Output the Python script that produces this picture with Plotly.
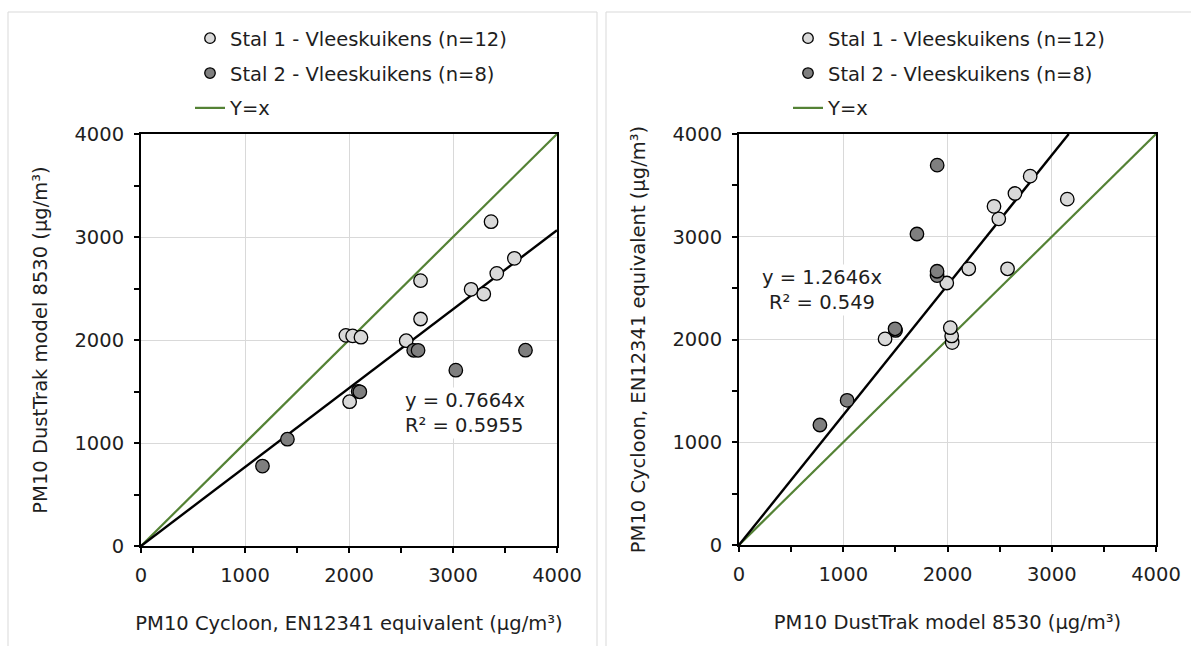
import plotly.graph_objects as go

# PM10 measurements per barn: Cycloon (EN12341 equivalent) vs DustTrak 8530, in µg/m³
stal1_cycloon = [3366, 3590, 3421, 3174, 3296, 2688, 2688, 2550, 1970, 2035, 2115, 2006]
stal1_dusttrak = [3149, 2793, 2647, 2492, 2446, 2576, 2204, 1993, 2045, 2040, 2027, 1401]
stal2_cycloon = [1168, 1408, 2088, 2104, 2622, 2664, 3027, 3697]
stal2_dusttrak = [776, 1037, 1502, 1497, 1900, 1900, 1707, 1901]

# regression lines through the origin
slope_left = 0.7664
r2_left = 0.5955
slope_right = 1.2646
r2_right = 0.549

axis_max = 4000
tick_vals = [0, 1000, 2000, 3000, 4000]

name1 = "Stal 1 - Vleeskuikens (n=12)"
name2 = "Stal 2 - Vleeskuikens (n=8)"
name_eq = "Y=x"

FONT = "DejaVu Sans"
TXT = "#1e1e1e"
FS = 19.5
GREEN = "#548235"
LIGHT = "#d9d9d9"
DARK = "#7f7f7f"
OUTLINE = dict(color="black", width=1.3)

W, H = 1191, 646


def px_x(p):
    return p / W


def px_y(p):
    return 1 - p / H


fig = go.Figure()


def add_panel(xa, ya, legend, x1, y1, x2, y2, slope):
    # lines first so the markers sit on top of them
    fig.add_trace(go.Scatter(
        x=[0, axis_max], y=[0, axis_max], mode="lines", name=name_eq,
        xaxis=xa, yaxis=ya, legend=legend, legendgroup=legend + "c", legendrank=3,
        line=dict(color=GREEN, width=2.2),
    ))
    x_end = min(axis_max, axis_max / slope)
    fig.add_trace(go.Scatter(
        x=[0, x_end], y=[0, slope * x_end], mode="lines", showlegend=False,
        xaxis=xa, yaxis=ya, line=dict(color="black", width=2.4),
    ))
    fig.add_trace(go.Scatter(
        x=x1, y=y1, mode="markers", name=name1, xaxis=xa, yaxis=ya,
        showlegend=False, legendgroup=legend + "a",
        marker=dict(size=13.5, color=LIGHT, line=OUTLINE),
    ))
    fig.add_trace(go.Scatter(
        x=x2, y=y2, mode="markers", name=name2, xaxis=xa, yaxis=ya,
        showlegend=False, legendgroup=legend + "b",
        marker=dict(size=13.5, color=DARK, line=OUTLINE),
    ))
    # legend keys with smaller symbols than the plotted markers
    for nm, col, grp, rk in ((name1, LIGHT, "a", 1), (name2, DARK, "b", 2)):
        fig.add_trace(go.Scatter(
            x=[None], y=[None], mode="markers", name=nm, xaxis=xa, yaxis=ya,
            legend=legend, legendgroup=legend + grp, legendrank=rk,
            marker=dict(size=10.5, color=col, line=OUTLINE),
        ))


add_panel("x", "y", "legend", stal1_cycloon, stal1_dusttrak,
          stal2_cycloon, stal2_dusttrak, slope_left)
add_panel("x2", "y2", "legend2", stal1_dusttrak, stal1_cycloon,
          stal2_dusttrak, stal2_cycloon, slope_right)

axis_common = dict(
    range=[0, axis_max], tickvals=tick_vals, showgrid=True, gridcolor="#d9d9d9",
    gridwidth=1, zeroline=False, showline=True, linecolor="black", linewidth=2,
    mirror=True, ticks="outside", ticklen=5, tickwidth=1.5, tickcolor="black",
    ticklabelstandoff=6,
    minor=dict(dtick=500, tick0=0, ticks="outside", ticklen=5, tickwidth=1.5,
               tickcolor="black", showgrid=False),
    tickfont=dict(family=FONT, size=FS, color=TXT),
    fixedrange=True,
)

legend_common = dict(
    font=dict(family=FONT, size=FS, color=TXT), bgcolor="rgba(0,0,0,0)",
    orientation="v", xanchor="left", yanchor="top", tracegroupgap=6.5,
    traceorder="grouped", itemclick=False, itemdoubleclick=False,
)

title_font = dict(family=FONT, size=FS, color=TXT)

fig.update_layout(
    width=W, height=H, margin=dict(l=0, r=0, t=0, b=0, autoexpand=False),
    paper_bgcolor="white", plot_bgcolor="white",
    font=dict(family=FONT, size=FS, color=TXT),
    xaxis=dict(axis_common, domain=[px_x(141), px_x(557)], anchor="y",
               title=dict(text="PM10 Cycloon, EN12341 equivalent (µg/m³)",
                          font=title_font, standoff=30)),
    yaxis=dict(axis_common, domain=[px_y(546), px_y(134)], anchor="x",
               title=dict(text="PM10 DustTrak model 8530 (µg/m³)",
                          font=title_font, standoff=22)),
    xaxis2=dict(axis_common, domain=[px_x(739), px_x(1156)], anchor="y2",
                title=dict(text="PM10 DustTrak model 8530 (µg/m³)",
                           font=title_font, standoff=30)),
    yaxis2=dict(axis_common, domain=[px_y(545), px_y(134)], anchor="x2",
                title=dict(text="PM10 Cycloon, EN12341 equivalent (µg/m³)",
                           font=title_font, standoff=22)),
    legend=dict(legend_common, x=px_x(190), y=px_y(19)),
    legend2=dict(legend_common, x=px_x(788), y=px_y(19)),
    showlegend=True,
    shapes=[
        dict(type="rect", xref="paper", yref="paper", x0=px_x(8), x1=px_x(597),
             y0=px_y(660), y1=px_y(12), line=dict(color="#d9d9d9", width=1)),
        dict(type="rect", xref="paper", yref="paper", x0=px_x(606), x1=px_x(1200),
             y0=px_y(660), y1=px_y(12), line=dict(color="#d9d9d9", width=1)),
    ],
    annotations=[
        dict(xref="x", yref="y", x=2519, y=1291, xanchor="left", yanchor="middle",
             text=f"y = {slope_left}x<br>R² = {r2_left}", showarrow=False,
             align="left", bgcolor="white", font=dict(family=FONT, size=FS, color=TXT)),
        dict(xref="x2", yref="y2", x=796, y=2482, xanchor="center", yanchor="middle",
             text=f"y = {slope_right}x<br>R² = {r2_right}", showarrow=False,
             align="center", bgcolor="white", font=dict(family=FONT, size=FS, color=TXT)),
    ],
)

fig.write_html("out.html", config={"displayModeBar": False})
